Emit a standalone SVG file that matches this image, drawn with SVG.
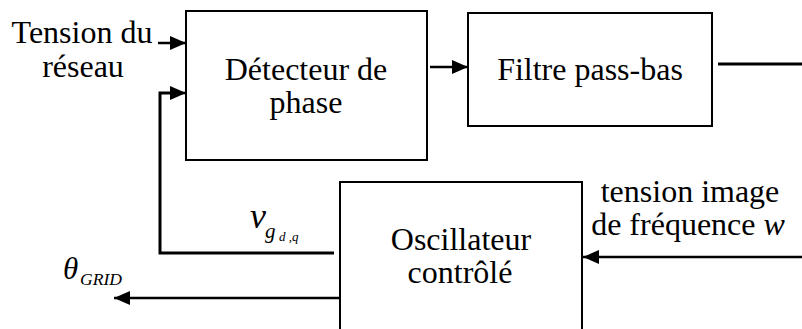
<svg xmlns="http://www.w3.org/2000/svg" width="802" height="329" viewBox="0 0 802 329">
<style>
  .box{fill:#fff;stroke:#000;stroke-width:2}
  .ln{fill:none;stroke:#000;stroke-width:2.5}
  .thick{fill:none;stroke:#000;stroke-width:3}
  .t{font-family:"Liberation Serif","Times New Roman",serif;font-size:32px;fill:#000}
  .m{font-family:"Liberation Serif","Times New Roman",serif;font-style:italic;fill:#000}
</style>
<defs>
  <marker id="ah" markerUnits="userSpaceOnUse" markerWidth="18" markerHeight="16" refX="16" refY="7" orient="auto">
    <path d="M0,0 L16,7 L0,14 Z" fill="#000"/>
  </marker>
</defs>
<rect width="802" height="329" fill="#fff"/>
<g id="detecteur">
  <rect class="box" x="186" y="11" width="241" height="149"/>
  <text class="t" x="306" y="80" text-anchor="middle">Détecteur de</text>
  <text class="t" x="306" y="113" text-anchor="middle">phase</text>
</g>
<g id="filtre">
  <rect class="box" x="468" y="13" width="244" height="113"/>
  <text class="t" x="590" y="80" text-anchor="middle">Filtre pass-bas</text>
</g>
<g id="oscillateur">
  <rect class="box" x="340" y="182" width="242" height="160"/>
  <text class="t" x="461" y="250" text-anchor="middle">Oscillateur</text>
  <text class="t" x="460" y="283" text-anchor="middle">contrôlé</text>
</g>
<g id="labels">
  <text class="t" x="82" y="43" text-anchor="middle">Tension du</text>
  <text class="t" x="83" y="77" text-anchor="middle">réseau</text>
  <text class="t" x="690" y="202" text-anchor="middle">tension image</text>
  <text class="t" x="688" y="235" text-anchor="middle">de fréquence <tspan font-style="italic">w</tspan></text>
  <text class="m" x="250" y="228" font-size="36">v</text>
  <text class="m" x="265" y="238" font-size="21">g</text>
  <text class="m" x="279" y="241" font-size="13">d ,q</text>
  <text class="m" x="63" y="279" font-size="31">θ</text>
  <text class="m" x="80" y="285" font-size="16" textLength="42" lengthAdjust="spacingAndGlyphs">GRID</text>
</g>
<g id="connectors">
  <line class="ln" x1="158" y1="43" x2="186" y2="43" marker-end="url(#ah)"/>
  <polyline class="thick" points="334,253 160,253 160,93 172,93"/>
  <line class="ln" x1="170" y1="93" x2="186" y2="93" marker-end="url(#ah)"/>
  <line class="ln" x1="430" y1="67" x2="468" y2="67" marker-end="url(#ah)"/>
  <line class="thick" x1="718" y1="64" x2="802" y2="64"/>
  <line class="ln" x1="802" y1="257" x2="583" y2="257" marker-end="url(#ah)"/>
  <line class="ln" x1="340" y1="298" x2="114" y2="298" marker-end="url(#ah)"/>
</g>
</svg>
